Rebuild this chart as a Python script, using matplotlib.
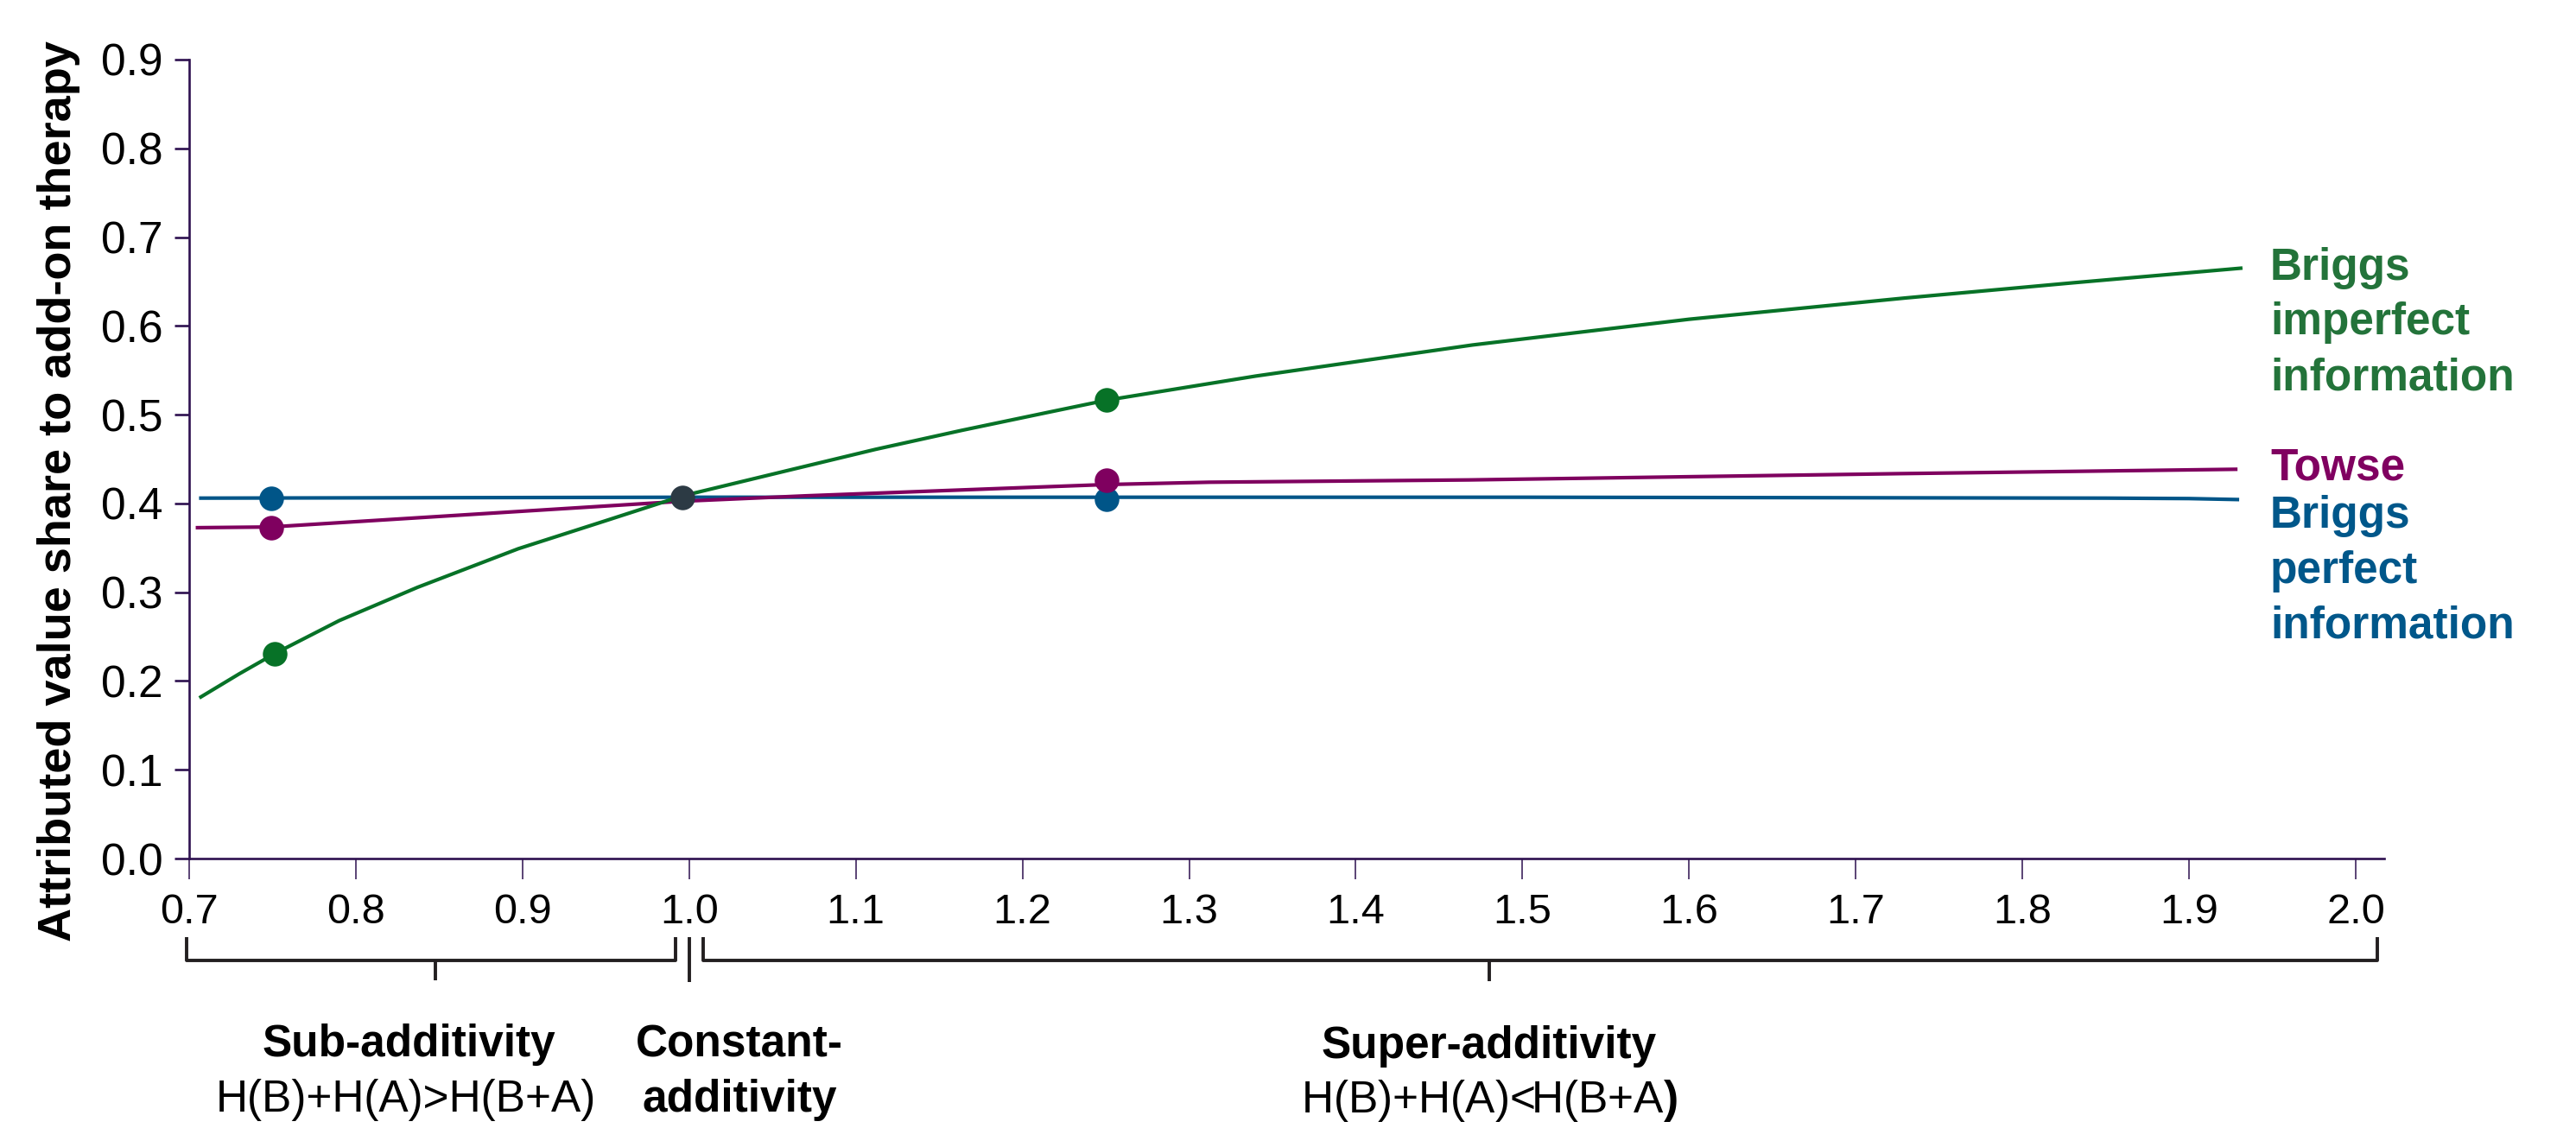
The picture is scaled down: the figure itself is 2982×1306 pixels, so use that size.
import matplotlib
matplotlib.use("Agg")
import matplotlib.pyplot as plt
import matplotlib.transforms as mtransforms

plt.rcParams['font.family'] = ['Liberation Sans', 'DejaVu Sans']
plt.rcParams['mathtext.fontset'] = 'custom'
plt.rcParams['mathtext.rm'] = 'Liberation Sans'
plt.rcParams['mathtext.bf'] = 'Liberation Sans:bold'

# ---------------- data ----------------
green_x = [0.707, 0.73, 0.7515, 0.79, 0.837, 0.8975, 0.949, 0.996, 1.06, 1.112,
           1.164, 1.215, 1.2505, 1.34, 1.47, 1.60, 1.73, 1.83, 1.931]
green_y = [0.182, 0.208, 0.231, 0.268, 0.3055, 0.349, 0.380, 0.4085, 0.4375, 0.461,
           0.4825, 0.5025, 0.5163, 0.5435, 0.5785, 0.6075, 0.6315, 0.6485, 0.665]

towse_x = [0.705, 0.749, 0.949, 0.996, 1.070, 1.2085, 1.2505, 1.312, 1.468, 1.727, 1.928]
towse_y = [0.3727, 0.3735, 0.397, 0.4025, 0.4086, 0.4184, 0.4213, 0.4239, 0.4265, 0.4336, 0.4385]

blue_x = [0.707, 1.0, 1.5, 1.85, 1.90, 1.929]
blue_y = [0.406, 0.407, 0.407, 0.406, 0.4055, 0.4044]

green_pts_x = [0.7515, 1.2505]
green_pts_y = [0.231, 0.5163]
towse_pts_x = [0.749, 1.2505]
towse_pts_y = [0.373, 0.4265]
blue_pts_x = [0.749, 1.2505]
blue_pts_y = [0.406, 0.4044]
const_pt_x = [0.996]
const_pt_y = [0.407]

x_ticks = [0.7, 0.8, 0.9, 1.0, 1.1, 1.2, 1.3, 1.4, 1.5, 1.6, 1.7, 1.8, 1.9, 2.0]
y_ticks = [0.0, 0.1, 0.2, 0.3, 0.4, 0.5, 0.6, 0.7, 0.8, 0.9]

# ---------------- styles ----------------
W, H = 2982, 1306
c_green = '#077227'
c_purple = '#7f005f'
c_blue = '#005588'
c_dark = '#2c3a44'
c_axis = '#2e1150'
t_green = '#23733a'
t_purple = '#800060'
t_blue = '#00578a'

fig = plt.figure(figsize=(W / 100, H / 100), dpi=100)
ax = fig.add_axes([219 / W, 1 - 994 / H, (2760 - 219) / W, (994 - 69) / H])
ax.set_xlim(0.7, 0.7 + (2760 - 219) / 1929.2)
ax.set_ylim(0, 0.9)

lw = 3.0
ms = 20.5
ax.plot(blue_x, blue_y, color=c_blue, lw=lw, clip_on=False, zorder=3)
ax.plot(towse_x, towse_y, color=c_purple, lw=lw, clip_on=False, zorder=3)
ax.plot(green_x, green_y, color=c_green, lw=lw, clip_on=False, zorder=3)
ax.plot(blue_pts_x, blue_pts_y, 'o', color=c_blue, ms=ms, mew=0, zorder=4)
ax.plot(towse_pts_x, towse_pts_y, 'o', color=c_purple, ms=ms, mew=0, zorder=5)
ax.plot(green_pts_x, green_pts_y, 'o', color=c_green, ms=ms, mew=0, zorder=5)
ax.plot(const_pt_x, const_pt_y, 'o', color=c_dark, ms=ms, mew=0, zorder=6)

for s in ['top', 'right']:
    ax.spines[s].set_visible(False)
for s in ['left', 'bottom']:
    ax.spines[s].set_color(c_axis)
    ax.spines[s].set_linewidth(1.9)
ax.spines['left'].set_bounds(0, 0.9)

ax.set_xticks(x_ticks)
ax.set_xticklabels([f"{v:.1f}" for v in x_ticks])
ax.set_yticks(y_ticks)
ax.set_yticklabels([f"{v:.1f}" for v in y_ticks])
ax.tick_params(axis='y', direction='out', length=12, width=1.9, color=c_axis,
               labelsize=37, pad=10, labelcolor='black')
ax.tick_params(axis='x', direction='out', length=17, width=1.1, color=c_axis,
               labelsize=35, pad=12, labelcolor='black')

fig.text(68 / W, 1 - 569 / H, 'Attributed value share to add-on therapy',
         rotation=90, ha='center', va='center', fontsize=39, fontweight='bold')

# right-hand series labels (one text per line, baseline in pixels)
def flabel(x_px, y_px, s, color, weight='bold', ha='left'):
    fig.text(x_px / W, 1 - y_px / H, s, color=color, fontsize=37,
             fontweight=weight, ha=ha, va='baseline')

flabel(2628, 324, 'Briggs', t_green)
flabel(2628, 387, 'imperfect', t_green)
flabel(2628, 452, 'information', t_green)
flabel(2628, 556, 'Towse', t_purple)
flabel(2628, 611, 'Briggs', t_blue)
flabel(2628, 675, 'perfect', t_blue)
flabel(2628, 738, 'information', t_blue)

# bottom region labels
flabel(473, 1223, 'Sub-additivity', 'black', ha='center')
flabel(470, 1287, 'H(B)+H(A)>H(B+A)', 'black', weight='normal', ha='center')
flabel(856, 1223, 'Constant-', 'black', ha='center')
flabel(856, 1287, 'additivity', 'black', ha='center')
flabel(1724, 1225, 'Super-additivity', 'black', ha='center')
flabel(1724, 1288, r'H(B)+H(A)<H(B+A$\mathbf{)}$', 'black', weight='normal', ha='center')

# braces below the x axis (x in data units, y in figure pixels)
tr = mtransforms.blended_transform_factory(ax.transData, fig.transFigure)
def fy(p):
    return 1 - p / H
c_br = '#231f20'
br_kw = dict(color=c_br, lw=2.8, transform=tr, clip_on=False,
             solid_joinstyle='round', solid_capstyle='butt')
# sub-additivity brace
ax.plot([0.6984, 0.6984, 0.9917, 0.9917], [fy(1085), fy(1112), fy(1112), fy(1085)], **br_kw)
ax.plot([0.8477, 0.8477], [fy(1112), fy(1135)], **br_kw)
# constant-additivity mark
ax.plot([1.0, 1.0], [fy(1085), fy(1137)], **br_kw)
# super-additivity brace
ax.plot([1.0083, 1.0083, 2.013, 2.013], [fy(1085), fy(1112), fy(1112), fy(1085)], **br_kw)
ax.plot([1.48, 1.48], [fy(1112), fy(1136)], **br_kw)

fig.savefig('out.png', dpi=100, facecolor='white')
